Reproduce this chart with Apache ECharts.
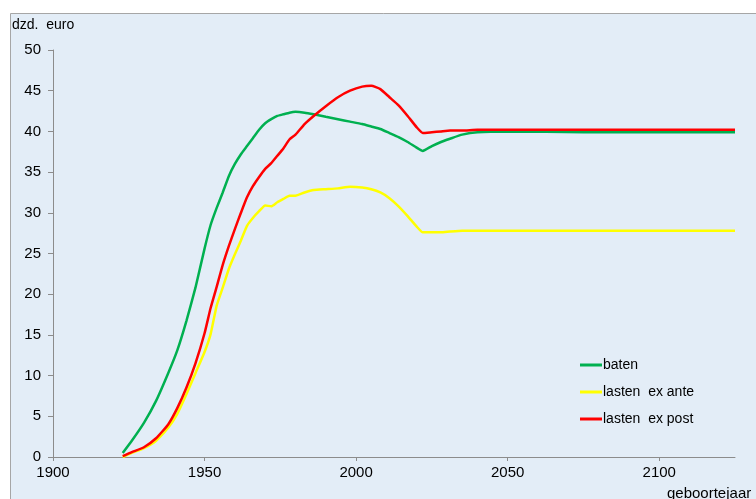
<!DOCTYPE html>
<html>
<head>
<meta charset="utf-8">
<script src="https://cdn.jsdelivr.net/npm/echarts@6/dist/echarts.min.js"></script>
<style>html,body{margin:0;padding:0;background:#fff}#c{width:756px;height:499px}</style>
</head>
<body>
<div id="c"></div>
<script>
var years = [1923,1926,1930,1934,1938,1941,1944,1947,1950,1952,1954,1956,1958,1960,1962,1964,1966,1968,1970,1972,1974,1976,1978,1980,1983,1986,1990,1994,1998,2002,2005,2008,2011,2014,2017,2020,2022,2025,2028,2031,2035,2040,2050,2075,2100,2125];
var baten = [0.5,2.0,4.2,6.9,10.3,13.1,16.7,20.8,25.6,28.5,30.6,32.5,34.5,36.0,37.2,38.2,39.2,40.2,41.0,41.5,41.9,42.1,42.3,42.4,42.3,42.1,41.8,41.5,41.2,40.9,40.6,40.3,39.8,39.3,38.7,38.0,37.6,38.2,38.7,39.1,39.6,39.9,40.0,39.9,39.9,39.9];
var lastenExAnte = [0.0,0.5,1.1,2.0,3.6,5.3,7.7,10.3,12.9,15.1,18.6,20.8,23.1,24.9,26.6,28.4,29.4,30.2,30.9,30.8,31.3,31.7,32.1,32.1,32.5,32.8,32.9,33.0,33.2,33.1,32.9,32.5,31.8,30.8,29.6,28.3,27.6,27.6,27.6,27.7,27.8,27.8,27.8,27.8,27.8,27.8];
var lastenExPost = [0.1,0.6,1.2,2.3,4.0,6.0,8.5,11.5,15.2,18.3,20.9,23.6,25.9,28.0,30.0,31.9,33.3,34.4,35.4,36.1,37.0,37.9,39.0,39.6,40.9,41.9,43.1,44.2,45.0,45.5,45.6,45.2,44.2,43.2,41.9,40.5,39.8,39.9,40.0,40.1,40.1,40.2,40.2,40.2,40.2,40.2];
var xTicks = [1900,1950,2000,2050,2100];
var seriesNames = ['baten','lasten  ex ante','lasten  ex post'];

function pairs(vals){ return years.map(function(y,i){ return [y, vals[i]]; }); }

var chart = echarts.init(document.getElementById('c'), null, {renderer:'canvas'});
var font = '"Liberation Sans", Arial, sans-serif';
function line(name, vals, color, z){
  return {name:name, type:'line', data:pairs(vals), symbol:'none', z:z, smooth:0.15,
    lineStyle:{color:color, width:2.5}, itemStyle:{color:color}, animation:false};
}
chart.setOption({
  animation:false,
  backgroundColor:'#ffffff',
  textStyle:{fontFamily:font},
  graphic:[
    {type:'rect', z:-10, silent:true, shape:{x:10.5, y:13.5, width:760, height:500},
      style:{fill:'#E3EDF7', stroke:'#A6A6A6', lineWidth:1}},
    {type:'text', left:12, top:18, style:{text:'dzd.  euro', font:'14px '+font, fill:'#000'}},
    {type:'text', left:667, top:486, style:{text:'geboortejaar', font:'15px '+font, fill:'#000'}}
  ],
  grid:{left:53, right:21, top:50, bottom:42, containLabel:false},
  legend:{
    orient:'vertical', left:575, top:353, itemWidth:22, itemHeight:3, itemGap:13,
    icon:'rect', data:seriesNames,
    textStyle:{fontSize:14, color:'#000', fontFamily:font, padding:[0,0,0,-4]}
  },
  xAxis:{
    type:'value', min:1900, max:2125, interval:50,
    axisLine:{show:true, onZero:false, lineStyle:{color:'#8C8C8C', width:1}},
    axisTick:{show:true, length:4, inside:false, customValues:xTicks, lineStyle:{color:'#8C8C8C'}},
    axisLabel:{customValues:xTicks, fontSize:15, color:'#000', margin:8, fontFamily:font,
      formatter:function(v){ return String(v); }},
    splitLine:{show:false}
  },
  yAxis:{
    type:'value', min:0, max:50, interval:5,
    axisLine:{show:true, lineStyle:{color:'#8C8C8C', width:1}},
    axisTick:{show:true, length:5, lineStyle:{color:'#8C8C8C'}},
    axisLabel:{fontSize:15, color:'#000', margin:12, fontFamily:font},
    splitLine:{show:false}
  },
  series:[
    line(seriesNames[0], baten, '#00B050', 3),
    line(seriesNames[1], lastenExAnte, '#FFFF00', 2),
    line(seriesNames[2], lastenExPost, '#FF0000', 4)
  ]
});
</script>
</body>
</html>
